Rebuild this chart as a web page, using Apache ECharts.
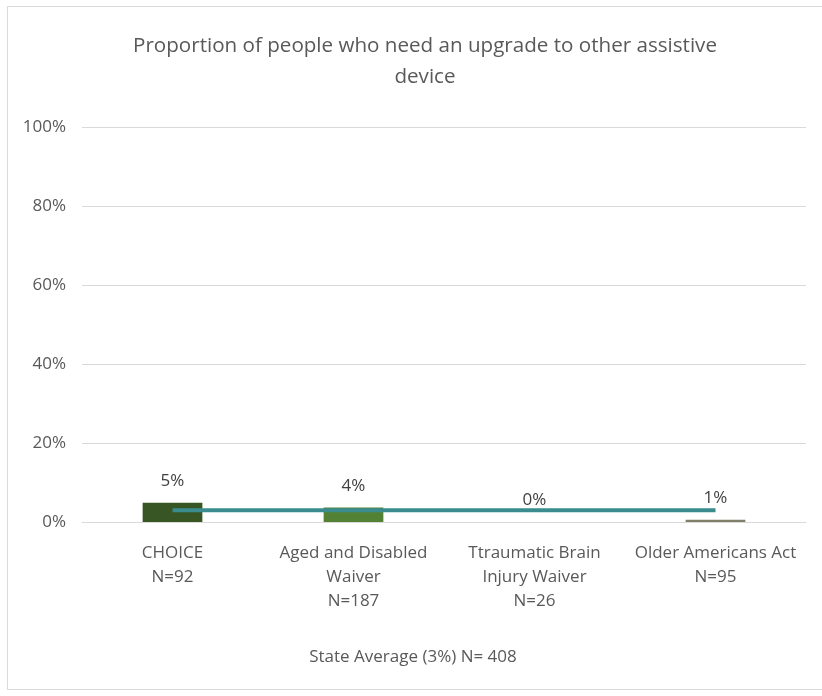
<!DOCTYPE html>
<html><head><meta charset="utf-8">
<script src="https://cdn.jsdelivr.net/npm/echarts@6/dist/echarts.min.js"></script>
<style>html,body{margin:0;padding:0;background:#fff}#c{width:822px;height:696px}</style>
</head><body><div id="c"></div>
<script>
const categories = ["CHOICE\nN=92", "Aged and Disabled\nWaiver\nN=187", "Ttraumatic Brain\nInjury Waiver\nN=26", "Older Americans Act\nN=95"];
const barValues = [4.9, 3.7, 0, 0.6];
const barColors = ["#375623", "#548235", "#a9c08a", "#7f7f6a"];
const stateAverage = [3, 3, 3, 3];
const yTicks = [0, 20, 40, 60, 80, 100];
const titleText = "Proportion of people who need an upgrade to other assistive\ndevice";
const legendText = "State Average (3%) N= 408";

const FONT = "'Open Sans', sans-serif";
const chart = echarts.init(document.getElementById('c'));
chart.setOption({
  animation: false,
  backgroundColor: '#fff',
  title: {
    text: titleText, left: 420, top: 26, textAlign: 'center',
    textStyle: { fontFamily: FONT, fontSize: 20.6, fontWeight: 'normal', color: '#595959', lineHeight: 31, align: 'center' }
  },
  graphic: [
    { type: 'rect', shape: { x: 7.5, y: 6.5, width: 820, height: 683 }, style: { fill: 'none', stroke: '#d9d9d9', lineWidth: 1 } },
    { type: 'text', x: 413, y: 657, style: { text: legendText, font: "17px 'Open Sans', sans-serif", fill: '#595959', align: 'center', verticalAlign: 'middle' } }
  ],
  grid: { left: 82, right: 16, top: 127, bottom: 174 },
  xAxis: {
    type: 'category', data: categories,
    axisLine: { lineStyle: { color: '#d9d9d9' } },
    axisTick: { show: false },
    axisLabel: { fontFamily: FONT, fontSize: 17, color: '#595959', lineHeight: 24, margin: 19, interval: 0 }
  },
  yAxis: {
    type: 'value', min: 0, max: 100, interval: 20,
    axisLabel: { formatter: v => yTicks.includes(v) ? v + '%' : '', fontFamily: FONT, fontSize: 17, color: '#595959', margin: 16 },
    splitLine: { lineStyle: { color: '#d9d9d9' } },
    axisLine: { show: false }, axisTick: { show: false }
  },
  series: [
    {
      type: 'bar', barWidth: '33%',
      data: barValues.map((v, i) => ({ value: v, itemStyle: { color: barColors[i] } })),
      label: { show: true, position: 'top', distance: 13, formatter: p => Math.round(p.value) + '%', fontFamily: FONT, fontSize: 17, color: '#404040' }
    },
    {
      type: 'line', data: stateAverage, symbol: 'none',
      lineStyle: { color: '#3a8c8f', width: 4 }, z: 5
    }
  ]
});
</script></body></html>
